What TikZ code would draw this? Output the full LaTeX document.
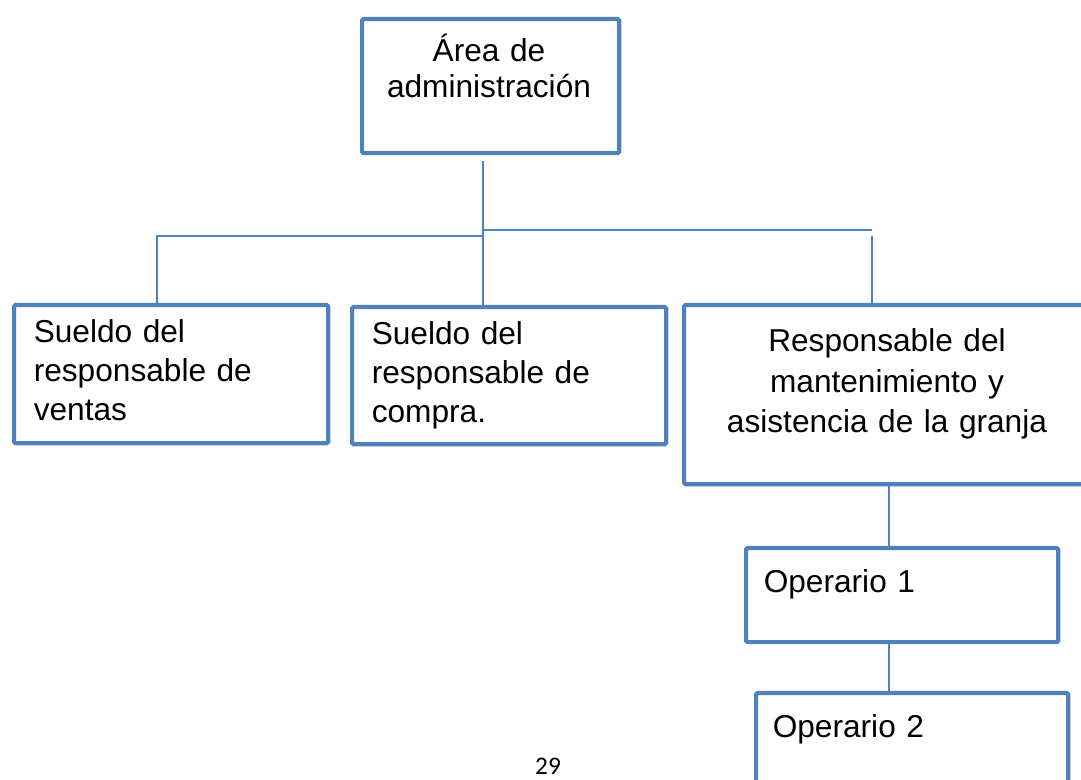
\documentclass[tikz,border=0pt]{standalone}
\usepackage{fontspec}
\setmainfont{Liberation Sans}
\newfontfamily\pagefont{Carlito}
\usetikzlibrary{positioning}
\definecolor{boxblue}{HTML}{4F81BD}

\tikzset{
  caja/.style={draw=boxblue, line width=3pt, rounded corners=1pt, inner sep=0pt, anchor=north west},
  texto/.style={inner sep=0pt, text width=#1, font=\fontsize{22.5}{27.7}\selectfont},
  linea/.style={draw=boxblue, line width=1.2pt},
}

\begin{document}
\begin{tikzpicture}[x=0.025cm, y=-0.025cm]

    \useasboundingbox (0,0) rectangle (1081,780);

    % cajas
    \node[caja, minimum width=6.425cm, minimum height=3.35cm] (admin) at (360,17) {};
    \node[caja, minimum width=7.85cm, minimum height=3.45cm] (ventas) at (12,303) {};
    \node[caja, minimum width=7.85cm, minimum height=3.425cm] (compra) at (350,305) {};
    \node[caja, minimum width=10.25cm, minimum height=4.475cm] (resp) at (682,303) {};
    \node[caja, minimum width=7.8cm, minimum height=2.35cm] (op1) at (744,546) {};
    \node[caja, minimum width=7.8cm, minimum height=2.6cm] (op2) at (754,691) {};

    % textos
    \node[texto=6cm, align=center, anchor=base, font=\fontsize{22.5}{24.9}\selectfont]
        (tadmin) at (489,62) {Área de\\administración};
    \node[texto=7cm, align=left, anchor=base west] (tventas) at (33.5,343) {Sueldo del\\responsable de\\ventas};
    \node[texto=7cm, align=left, anchor=base west] (tcompra) at (371.5,345) {Sueldo del\\responsable de\\compra.};
    \node[texto=10cm, align=center, anchor=base, font=\fontsize{22.5}{28.45}\selectfont]
        (tresp) at (887,352) {Responsable del\\mantenimiento y\\asistencia de la granja};
    \node[texto=7cm, align=left, anchor=base west] (top1) at (763.5,593) {Operario 1};
    \node[texto=7cm, align=left, anchor=base west] (top2) at (772.5,737) {Operario 2};

    \node[inner sep=0pt, anchor=base, font=\pagefont\fontsize{18}{20}\selectfont] (pagina) at (548,775) {29};

    % lineas
    \coordinate (tronco) at (483,161);
    \coordinate (medio) at (483,236);
    \coordinate (izq) at (157,236);
    \coordinate (der) at (872,230);
    \coordinate (derbaja) at (872,236);

    \draw[linea] (tronco) -- (tronco |- compra.north);
    \draw[linea] (izq |- ventas.north) -- (izq) -- (medio);
    \draw[linea] (medio |- der) -- (der);
    \draw[linea] (derbaja) -- (derbaja |- resp.north);
    \draw[linea] (resp.south) -- (resp.south |- op1.north);
    \draw[linea] (resp.south |- op1.south) -- (resp.south |- op2.north);

\end{tikzpicture}
\end{document}
